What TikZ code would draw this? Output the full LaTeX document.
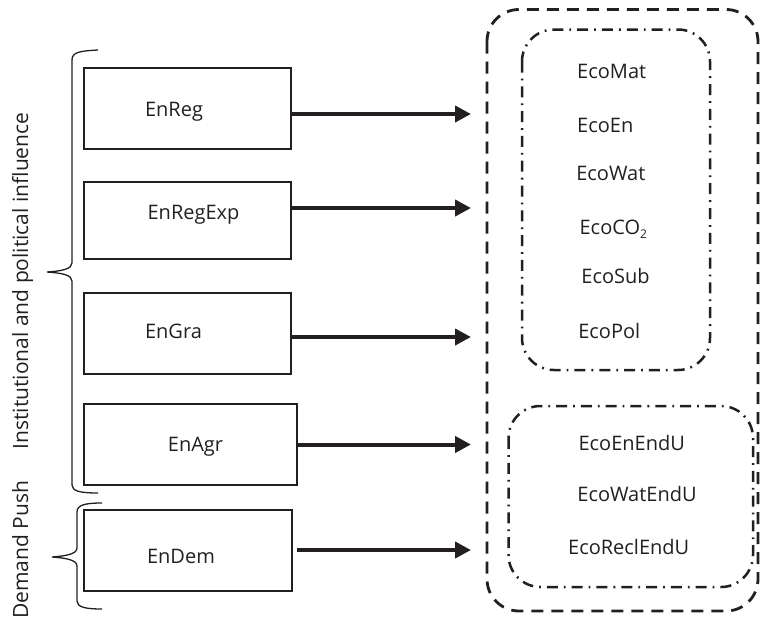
\documentclass[tikz,border=0pt]{standalone}
\usepackage{fontspec}
\setmainfont{Open Sans}
\usetikzlibrary{arrows.meta}
\definecolor{ink}{RGB}{35,31,32}
\tikzset{
  lbl/.style={inner sep=0pt, text height=14pt, text depth=0pt, text=ink, font=\fontsize{20}{24}\selectfont},
  sidelbl/.style={lbl, rotate=90, font=\fontsize{21}{25}\selectfont},
  enbox/.style={draw=ink, line width=2.4pt, inner sep=0pt, minimum height=#1},
  arr/.style={draw=ink, line width=4pt, -{Triangle[length=16pt,width=16pt]}},
  brc/.style={draw=ink, line width=1.3pt},
  outerbox/.style={draw=ink, line width=2.8pt, rounded corners=32pt, dash pattern=on 12pt off 8pt},
  innerbox/.style={draw=ink, line width=2.5pt, rounded corners=32pt, dash pattern=on 11pt off 6pt on 1.8pt off 6pt}
}
\begin{document}
\begin{tikzpicture}[x=1pt,y=-1pt]
\useasboundingbox (0,0) rectangle (761,619);
% boxes
\node[enbox=81pt, minimum width=207pt, label={[lbl,xshift=-13.5pt,yshift=-1pt]center:EnReg}] (b1) at (187.5,108.5) {};
\node[enbox=77pt, minimum width=207pt, label={[lbl,xshift=6pt,yshift=8.5pt]center:EnRegExp}] (b2) at (187.5,220.5) {};
\node[enbox=81pt, minimum width=207pt, label={[lbl,xshift=-14pt,yshift=2.5pt]center:EnGra}] (b3) at (187.5,333.5) {};
\node[enbox=81pt, minimum width=213pt, label={[lbl,xshift=5pt]center:EnAgr}] (b4) at (190.5,444.5) {};
\node[enbox=81pt, minimum width=208pt, label={[lbl,xshift=-7pt,yshift=-5.5pt]center:EnDem}] (b5) at (188,550.5) {};
% arrow tip line
\coordinate (tipx) at (471,0);
\draw[arr] ([yshift=-5.5pt]b1.east) -- ([yshift=-5.5pt]b1.east -| tipx);
\draw[arr] ([yshift=12.5pt]b2.east) -- ([yshift=12.5pt]b2.east -| tipx);
\draw[arr] ([yshift=-3.5pt]b3.east) -- ([yshift=-3.5pt]b3.east -| tipx);
\draw[arr] (b4.east) -- (b4.east -| tipx);
\draw[arr, shorten <=4pt] ([yshift=0.5pt]b5.east) -- ([yshift=0.5pt]b5.east -| tipx);
% braces
\draw[brc] (98,50) .. controls (80,51) and (72,52) .. (72,60) -- (72,263)
  .. controls (72,269) and (62,271) .. (47,272)
  .. controls (62,273) and (72,275) .. (72,281) -- (72,485)
  .. controls (72,491) and (80,493) .. (98,493);
\draw[brc] (102,503) .. controls (85,503) and (77,505) .. (77,512) -- (77,548)
  .. controls (77,554) and (66,556) .. (52,557)
  .. controls (66,558) and (77,560) .. (77,566) -- (77,601)
  .. controls (77,607) and (85,609) .. (102,609);
\node[sidelbl] (infl) at (21,281) {Institutional and political influence};
\node[sidelbl] (dem) at (21,550) {Demand Push};
% groups
\draw[outerbox] (487,9.5) rectangle (758,611);
\draw[innerbox] (522,29.5) rectangle (710,370);
\draw[innerbox] (508.5,406) rectangle (753,587);
% eco labels
\node[lbl] (e1) at (611.7,71.7) {EcoMat};
\node[lbl] (e2) at (605.3,125.8) {EcoEn};
\node[lbl] (e3) at (610.8,173.7) {EcoWat};
\node[lbl] (e4) at (613.3,227.5) {EcoCO\raisebox{-4pt}{\fontsize{12}{14}\selectfont 2}};
\node[lbl] (e5) at (615.5,276.3) {EcoSub};
\node[lbl] (e6) at (609.3,331.7) {EcoPol};
\node[lbl] (e7) at (631.7,443) {EcoEnEndU};
\node[lbl] (e8) at (637,494.7) {EcoWatEndU};
\node[lbl] (e9) at (628.7,547.8) {EcoReclEndU};
\end{tikzpicture}
\end{document}
